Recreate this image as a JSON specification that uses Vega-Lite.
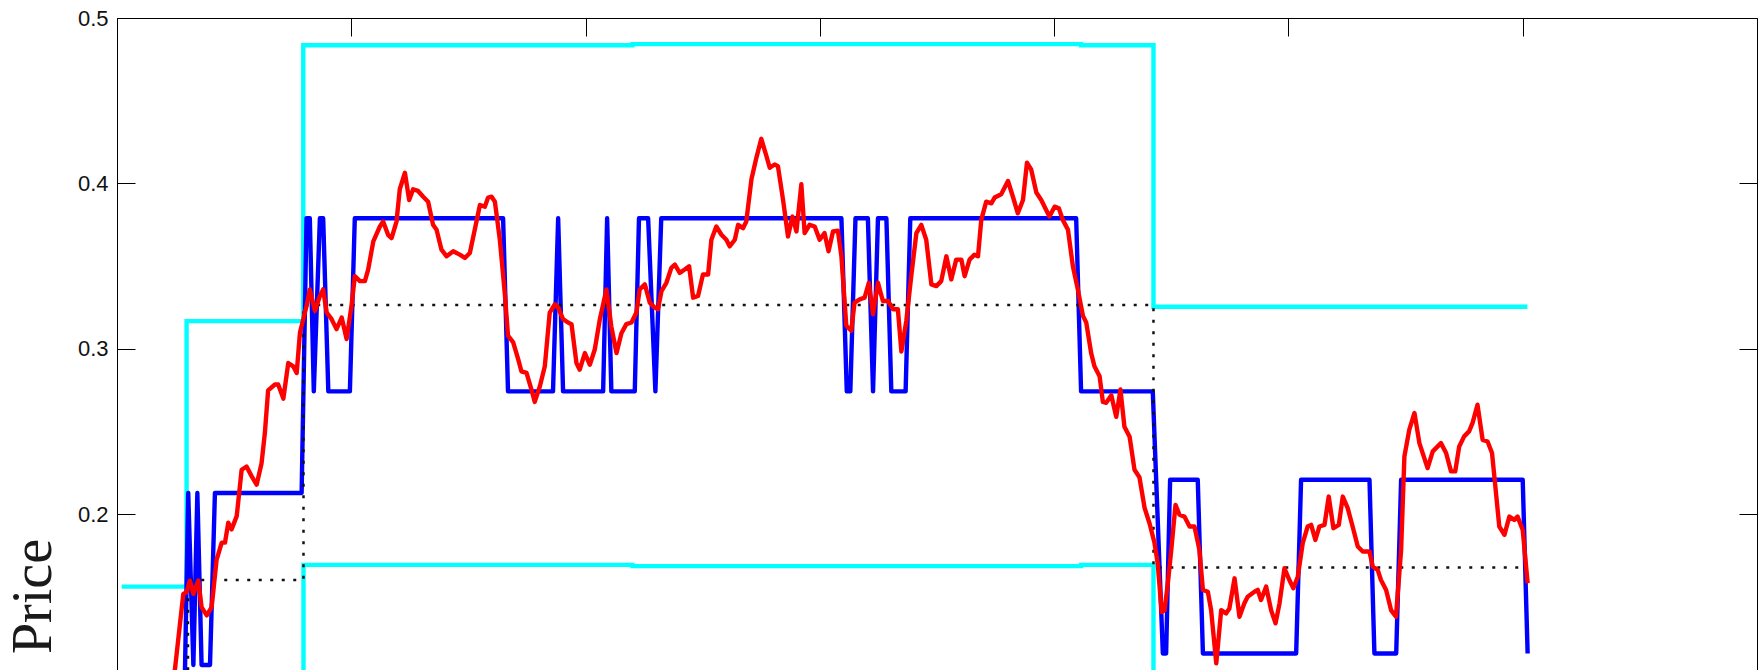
{
  "$schema": "https://vega.github.io/schema/vega-lite/v6.json",
  "width": 1640,
  "height": 652,
  "autosize": {"type": "none"},
  "padding": {"left": 117, "top": 18, "right": 3, "bottom": 0},
  "background": "white",
  "config": {"view": {"stroke": null}},
  "datasets": {
    "bands": [
      {"t": 2, "v": 0.1564, "band": "upper"},
      {"t": 29.7, "v": 0.3168, "band": "upper"},
      {"t": 79.5, "v": 0.4835, "band": "upper"},
      {"t": 220, "v": 0.4842, "band": "upper"},
      {"t": 411.5, "v": 0.4835, "band": "upper"},
      {"t": 442.4, "v": 0.3255, "band": "upper"},
      {"t": 602, "v": 0.3255, "band": "upper"},
      {"t": 2, "v": -0.15, "band": "lower"},
      {"t": 30, "v": 0.004, "band": "lower"},
      {"t": 79.6, "v": 0.1695, "band": "lower"},
      {"t": 220, "v": 0.1688, "band": "lower"},
      {"t": 411.5, "v": 0.1695, "band": "lower"},
      {"t": 442.4, "v": 0.0105, "band": "lower"},
      {"t": 602, "v": 0.0105, "band": "lower"}
    ],
    "mid": [
      {"t": 2, "v": 0.0},
      {"t": 30.3, "v": 0.1604},
      {"t": 79.6, "v": 0.3266},
      {"t": 442.4, "v": 0.168},
      {"t": 602, "v": 0.168}
    ],
    "state": [
      {"t": 2, "v": 0.05}, {"t": 28.3, "v": 0.05}, {"t": 30.4, "v": 0.213}, {"t": 32.6, "v": 0.109},
      {"t": 34.3, "v": 0.213}, {"t": 36.1, "v": 0.109}, {"t": 39.7, "v": 0.109}, {"t": 41.8, "v": 0.213},
      {"t": 78.8, "v": 0.213}, {"t": 80.9, "v": 0.379}, {"t": 82.3, "v": 0.379}, {"t": 84.0, "v": 0.2744},
      {"t": 86.6, "v": 0.379}, {"t": 88.0, "v": 0.379}, {"t": 90.2, "v": 0.2744}, {"t": 99.4, "v": 0.2744},
      {"t": 101.5, "v": 0.379}, {"t": 164.8, "v": 0.379}, {"t": 166.9, "v": 0.2744}, {"t": 186.1, "v": 0.2744},
      {"t": 188.3, "v": 0.379}, {"t": 190.4, "v": 0.2744}, {"t": 207.5, "v": 0.2744}, {"t": 209.2, "v": 0.379},
      {"t": 211.0, "v": 0.2744}, {"t": 221.0, "v": 0.2744}, {"t": 222.8, "v": 0.379}, {"t": 226.7, "v": 0.379},
      {"t": 229.8, "v": 0.2744}, {"t": 232.3, "v": 0.379}, {"t": 309.2, "v": 0.379}, {"t": 311.5, "v": 0.2744},
      {"t": 313.0, "v": 0.2744}, {"t": 315.2, "v": 0.379}, {"t": 320.5, "v": 0.379}, {"t": 322.7, "v": 0.2744},
      {"t": 324.8, "v": 0.379}, {"t": 328.4, "v": 0.379}, {"t": 330.5, "v": 0.2744}, {"t": 336.6, "v": 0.2744},
      {"t": 338.6, "v": 0.379}, {"t": 409.4, "v": 0.379}, {"t": 411.5, "v": 0.2744}, {"t": 442.1, "v": 0.2744},
      {"t": 446.4, "v": 0.116}, {"t": 447.8, "v": 0.116}, {"t": 449.5, "v": 0.221}, {"t": 461.3, "v": 0.221},
      {"t": 463.5, "v": 0.116}, {"t": 503.3, "v": 0.116}, {"t": 505.4, "v": 0.221}, {"t": 534.6, "v": 0.221},
      {"t": 536.7, "v": 0.116}, {"t": 546.0, "v": 0.116}, {"t": 548.1, "v": 0.221}, {"t": 600.0, "v": 0.221},
      {"t": 602.1, "v": 0.116}
    ],
    "price": [
      {"t": 20, "v": 0.07}, {"t": 24.7, "v": 0.106}, {"t": 28.3, "v": 0.152}, {"t": 29.7, "v": 0.153},
      {"t": 31.1, "v": 0.16}, {"t": 32.6, "v": 0.152}, {"t": 34.7, "v": 0.16}, {"t": 36.1, "v": 0.144},
      {"t": 38.3, "v": 0.139}, {"t": 40.4, "v": 0.144}, {"t": 42.5, "v": 0.1725}, {"t": 44.7, "v": 0.183},
      {"t": 46.1, "v": 0.183}, {"t": 47.5, "v": 0.195}, {"t": 48.9, "v": 0.191}, {"t": 51.1, "v": 0.199},
      {"t": 53.2, "v": 0.227}, {"t": 55.3, "v": 0.229}, {"t": 57.5, "v": 0.223}, {"t": 59.6, "v": 0.218},
      {"t": 61.7, "v": 0.231}, {"t": 63.1, "v": 0.249}, {"t": 64.5, "v": 0.275}, {"t": 67.4, "v": 0.2785},
      {"t": 68.8, "v": 0.2785}, {"t": 71.0, "v": 0.27}, {"t": 73.1, "v": 0.2915}, {"t": 75.2, "v": 0.2895},
      {"t": 76.7, "v": 0.2855}, {"t": 78.1, "v": 0.31}, {"t": 79.5, "v": 0.318}, {"t": 80.9, "v": 0.326},
      {"t": 82.3, "v": 0.336}, {"t": 84.5, "v": 0.323}, {"t": 86.6, "v": 0.332}, {"t": 88.0, "v": 0.336},
      {"t": 89.5, "v": 0.322}, {"t": 91.6, "v": 0.318}, {"t": 93.7, "v": 0.312}, {"t": 95.9, "v": 0.319},
      {"t": 98.0, "v": 0.306}, {"t": 100.1, "v": 0.326}, {"t": 101.5, "v": 0.344}, {"t": 103.7, "v": 0.341},
      {"t": 105.8, "v": 0.341}, {"t": 107.2, "v": 0.348}, {"t": 109.4, "v": 0.365}, {"t": 112.2, "v": 0.374},
      {"t": 113.6, "v": 0.377}, {"t": 115.7, "v": 0.369}, {"t": 117.2, "v": 0.367}, {"t": 119.3, "v": 0.377},
      {"t": 120.7, "v": 0.3965}, {"t": 122.9, "v": 0.4065}, {"t": 124.7, "v": 0.39}, {"t": 126.4, "v": 0.3965},
      {"t": 128.5, "v": 0.3955}, {"t": 130.7, "v": 0.392}, {"t": 132.8, "v": 0.389}, {"t": 134.9, "v": 0.375},
      {"t": 136.4, "v": 0.372}, {"t": 138.5, "v": 0.36}, {"t": 140.7, "v": 0.356}, {"t": 143.5, "v": 0.359},
      {"t": 146.3, "v": 0.357}, {"t": 148.5, "v": 0.355}, {"t": 150.6, "v": 0.358}, {"t": 152.7, "v": 0.372},
      {"t": 154.9, "v": 0.387}, {"t": 157.0, "v": 0.386}, {"t": 158.4, "v": 0.3915}, {"t": 159.9, "v": 0.392},
      {"t": 161.3, "v": 0.389}, {"t": 163.4, "v": 0.366}, {"t": 165.5, "v": 0.334}, {"t": 166.9, "v": 0.308},
      {"t": 169.1, "v": 0.304}, {"t": 171.2, "v": 0.294}, {"t": 172.6, "v": 0.2865}, {"t": 174.8, "v": 0.2855},
      {"t": 176.9, "v": 0.2755}, {"t": 178.3, "v": 0.268}, {"t": 180.5, "v": 0.2775}, {"t": 182.6, "v": 0.2895},
      {"t": 184.7, "v": 0.322}, {"t": 186.9, "v": 0.327}, {"t": 188.3, "v": 0.325}, {"t": 190.4, "v": 0.318},
      {"t": 192.5, "v": 0.316}, {"t": 194.0, "v": 0.315}, {"t": 196.1, "v": 0.2915}, {"t": 197.5, "v": 0.2875},
      {"t": 199.7, "v": 0.2975}, {"t": 201.8, "v": 0.2905}, {"t": 203.9, "v": 0.2995}, {"t": 206.1, "v": 0.318},
      {"t": 208.9, "v": 0.336}, {"t": 211.0, "v": 0.3135}, {"t": 213.2, "v": 0.2975}, {"t": 215.3, "v": 0.3095},
      {"t": 217.4, "v": 0.315}, {"t": 219.6, "v": 0.316}, {"t": 221.7, "v": 0.322}, {"t": 223.1, "v": 0.336},
      {"t": 225.3, "v": 0.339}, {"t": 227.4, "v": 0.328}, {"t": 229.5, "v": 0.325}, {"t": 230.9, "v": 0.324},
      {"t": 232.4, "v": 0.335}, {"t": 234.5, "v": 0.34}, {"t": 236.6, "v": 0.349}, {"t": 238.1, "v": 0.351},
      {"t": 240.2, "v": 0.346}, {"t": 242.3, "v": 0.348}, {"t": 244.2, "v": 0.35}, {"t": 245.9, "v": 0.331},
      {"t": 248.0, "v": 0.332}, {"t": 250.1, "v": 0.345}, {"t": 252.3, "v": 0.345}, {"t": 253.7, "v": 0.366},
      {"t": 255.8, "v": 0.374}, {"t": 258.0, "v": 0.369}, {"t": 260.1, "v": 0.366}, {"t": 261.5, "v": 0.362},
      {"t": 263.7, "v": 0.366}, {"t": 265.1, "v": 0.375}, {"t": 267.2, "v": 0.373}, {"t": 268.6, "v": 0.377},
      {"t": 270.8, "v": 0.4025}, {"t": 272.9, "v": 0.4155}, {"t": 275.0, "v": 0.427}, {"t": 277.2, "v": 0.4165},
      {"t": 278.6, "v": 0.4095}, {"t": 280.7, "v": 0.4115}, {"t": 282.1, "v": 0.4105}, {"t": 284.3, "v": 0.39},
      {"t": 286.4, "v": 0.368}, {"t": 288.3, "v": 0.38}, {"t": 290.0, "v": 0.371}, {"t": 292.1, "v": 0.3995},
      {"t": 293.5, "v": 0.37}, {"t": 295.6, "v": 0.375}, {"t": 297.8, "v": 0.374}, {"t": 299.9, "v": 0.366},
      {"t": 302.0, "v": 0.37}, {"t": 303.7, "v": 0.359}, {"t": 305.6, "v": 0.371}, {"t": 307.7, "v": 0.3715},
      {"t": 309.2, "v": 0.356}, {"t": 311.3, "v": 0.314}, {"t": 313.4, "v": 0.311}, {"t": 314.8, "v": 0.328},
      {"t": 317.0, "v": 0.33}, {"t": 319.1, "v": 0.331}, {"t": 320.9, "v": 0.34}, {"t": 322.7, "v": 0.321},
      {"t": 324.8, "v": 0.34}, {"t": 326.9, "v": 0.329}, {"t": 329.1, "v": 0.329}, {"t": 331.2, "v": 0.324},
      {"t": 333.3, "v": 0.324}, {"t": 334.8, "v": 0.2985}, {"t": 336.9, "v": 0.317}, {"t": 339.0, "v": 0.344},
      {"t": 341.2, "v": 0.37}, {"t": 343.3, "v": 0.375}, {"t": 345.4, "v": 0.366}, {"t": 347.6, "v": 0.339},
      {"t": 349.7, "v": 0.338}, {"t": 351.8, "v": 0.341}, {"t": 354.0, "v": 0.356}, {"t": 356.1, "v": 0.342},
      {"t": 358.2, "v": 0.354}, {"t": 360.4, "v": 0.354}, {"t": 361.8, "v": 0.344}, {"t": 363.9, "v": 0.354},
      {"t": 366.0, "v": 0.357}, {"t": 367.5, "v": 0.356}, {"t": 368.9, "v": 0.378}, {"t": 371.0, "v": 0.389},
      {"t": 373.2, "v": 0.388}, {"t": 374.6, "v": 0.3915}, {"t": 377.4, "v": 0.3935}, {"t": 380.3, "v": 0.4015},
      {"t": 382.4, "v": 0.392}, {"t": 384.5, "v": 0.382}, {"t": 386.7, "v": 0.39}, {"t": 388.4, "v": 0.4125},
      {"t": 390.2, "v": 0.4085}, {"t": 392.4, "v": 0.3945}, {"t": 394.5, "v": 0.39}, {"t": 396.6, "v": 0.384},
      {"t": 398.0, "v": 0.38}, {"t": 400.2, "v": 0.386}, {"t": 402.0, "v": 0.385}, {"t": 403.7, "v": 0.378},
      {"t": 405.9, "v": 0.372}, {"t": 408.0, "v": 0.35}, {"t": 410.1, "v": 0.336}, {"t": 412.3, "v": 0.32},
      {"t": 413.7, "v": 0.316}, {"t": 415.8, "v": 0.2975}, {"t": 417.2, "v": 0.2895}, {"t": 419.4, "v": 0.2835},
      {"t": 420.8, "v": 0.268}, {"t": 422.2, "v": 0.2675}, {"t": 424.4, "v": 0.272}, {"t": 426.5, "v": 0.259},
      {"t": 428.3, "v": 0.2755}, {"t": 430.0, "v": 0.253}, {"t": 432.2, "v": 0.247}, {"t": 434.3, "v": 0.227},
      {"t": 436.4, "v": 0.2225}, {"t": 438.6, "v": 0.204}, {"t": 440.7, "v": 0.1947}, {"t": 442.8, "v": 0.183},
      {"t": 444.2, "v": 0.1705}, {"t": 445.9, "v": 0.141}, {"t": 447.1, "v": 0.142}, {"t": 448.5, "v": 0.158},
      {"t": 450.0, "v": 0.1786}, {"t": 451.8, "v": 0.2058}, {"t": 453.5, "v": 0.1998}, {"t": 455.6, "v": 0.1987},
      {"t": 457.8, "v": 0.1927}, {"t": 459.9, "v": 0.1927}, {"t": 462.0, "v": 0.1786}, {"t": 463.5, "v": 0.1544},
      {"t": 465.6, "v": 0.1533}, {"t": 467.0, "v": 0.1422}, {"t": 469.2, "v": 0.11}, {"t": 471.3, "v": 0.1422},
      {"t": 473.4, "v": 0.1402}, {"t": 474.8, "v": 0.1432}, {"t": 477.0, "v": 0.1614}, {"t": 479.1, "v": 0.1382},
      {"t": 481.2, "v": 0.1463}, {"t": 482.6, "v": 0.1503}, {"t": 485.5, "v": 0.1533}, {"t": 486.9, "v": 0.1544},
      {"t": 488.3, "v": 0.1483}, {"t": 490.5, "v": 0.1564}, {"t": 492.6, "v": 0.1422}, {"t": 494.5, "v": 0.1342},
      {"t": 496.2, "v": 0.1463}, {"t": 498.3, "v": 0.1675}, {"t": 500.4, "v": 0.1604}, {"t": 502.1, "v": 0.1554},
      {"t": 504.0, "v": 0.1624}, {"t": 506.1, "v": 0.1826}, {"t": 508.2, "v": 0.1927}, {"t": 509.7, "v": 0.1937},
      {"t": 511.5, "v": 0.1846}, {"t": 513.2, "v": 0.1927}, {"t": 515.4, "v": 0.1937}, {"t": 517.2, "v": 0.2108},
      {"t": 519.2, "v": 0.1917}, {"t": 521.5, "v": 0.1937}, {"t": 523.2, "v": 0.2108}, {"t": 525.3, "v": 0.2038},
      {"t": 527.4, "v": 0.1927}, {"t": 529.6, "v": 0.1806}, {"t": 531.7, "v": 0.1776}, {"t": 534.6, "v": 0.1776},
      {"t": 536.0, "v": 0.1685}, {"t": 538.1, "v": 0.1665}, {"t": 539.5, "v": 0.1604}, {"t": 541.7, "v": 0.1544},
      {"t": 543.8, "v": 0.1422}, {"t": 545.9, "v": 0.1382}, {"t": 548.1, "v": 0.1786}, {"t": 549.5, "v": 0.2351},
      {"t": 551.6, "v": 0.2512}, {"t": 553.8, "v": 0.2613}, {"t": 555.9, "v": 0.2431}, {"t": 559.4, "v": 0.228},
      {"t": 561.6, "v": 0.2381}, {"t": 565.1, "v": 0.2431}, {"t": 567.3, "v": 0.2371}, {"t": 569.4, "v": 0.226},
      {"t": 571.2, "v": 0.226}, {"t": 572.9, "v": 0.2411}, {"t": 575.0, "v": 0.2472}, {"t": 577.1, "v": 0.2502},
      {"t": 578.6, "v": 0.2553}, {"t": 580.7, "v": 0.2663}, {"t": 582.9, "v": 0.2451}, {"t": 585.0, "v": 0.2441},
      {"t": 586.9, "v": 0.2371}, {"t": 588.6, "v": 0.2129}, {"t": 590.0, "v": 0.1927}, {"t": 592.2, "v": 0.1877},
      {"t": 594.3, "v": 0.1987}, {"t": 596.4, "v": 0.1967}, {"t": 597.8, "v": 0.1987}, {"t": 600.0, "v": 0.1907},
      {"t": 602.1, "v": 0.1584}
    ]
  },
  "layer": [
    {
      "data": {"name": "bands"},
      "mark": {"type": "line", "color": "#00ffff", "strokeWidth": 4.4, "interpolate": "step-after", "clip": true, "strokeJoin": "miter"},
      "encoding": {
        "x": {"field": "t", "type": "quantitative", "scale": {"domain": [0, 700], "nice": false, "zero": false},
          "axis": {"orient": "top", "values": [0, 100, 200, 300, 400, 500, 600, 700], "labels": false, "grid": false, "title": null,
            "domain": true, "domainColor": "#000000", "domainWidth": 1, "ticks": true, "tickSize": -18, "tickColor": "#000000", "tickWidth": 1}},
        "y": {"field": "v", "type": "quantitative", "scale": {"domain": [0.106, 0.5], "nice": false, "zero": false},
          "axis": {"orient": "left", "values": [0.2, 0.3, 0.4, 0.5], "format": ".1f", "grid": false,
            "domain": true, "domainColor": "#000000", "domainWidth": 1, "ticks": true, "tickSize": -18, "tickColor": "#000000", "tickWidth": 1,
            "labelFont": "Liberation Sans", "labelFontSize": 22, "labelColor": "#111111", "labelPadding": 27, "labelFlush": false, "labelOverlap": false,
            "title": "Price", "titleFont": "Liberation Serif", "titleFontSize": 56, "titleFontWeight": "normal", "titleColor": "#1a1a1a",
            "titleAngle": -90, "titleX": -67, "titleY": 578, "titleAlign": "center", "titleBaseline": "alphabetic"}},
        "detail": {"field": "band"}
      }
    },
    {
      "data": {"name": "state"},
      "mark": {"type": "line", "color": "#0000ff", "strokeWidth": 4.4, "clip": true, "strokeJoin": "round"},
      "encoding": {
        "x": {"field": "t", "type": "quantitative",
          "axis": {"orient": "top", "values": [0, 100, 200, 300, 400, 500, 600, 700], "labels": false, "grid": false, "title": null,
            "domain": true, "domainColor": "#000000", "domainWidth": 1, "ticks": true, "tickSize": -18, "tickColor": "#000000", "tickWidth": 1}},
        "y": {"field": "v", "type": "quantitative", "axis": null}
      }
    },
    {
      "data": {"name": "mid"},
      "mark": {"type": "line", "color": "#111111", "strokeWidth": 2.5, "strokeDash": [3, 8.5], "interpolate": "step-after", "clip": true},
      "encoding": {
        "x": {"field": "t", "type": "quantitative",
          "axis": {"orient": "top", "values": [0, 100, 200, 300, 400, 500, 600, 700], "labels": false, "grid": false, "title": null,
            "domain": true, "domainColor": "#000000", "domainWidth": 1, "ticks": true, "tickSize": -18, "tickColor": "#000000", "tickWidth": 1}},
        "y": {"field": "v", "type": "quantitative", "axis": null}
      }
    },
    {
      "data": {"name": "price"},
      "mark": {"type": "line", "color": "#ff0000", "strokeWidth": 4.4, "clip": true, "strokeJoin": "round"},
      "encoding": {
        "x": {"field": "t", "type": "quantitative",
          "axis": {"orient": "top", "values": [0, 100, 200, 300, 400, 500, 600, 700], "labels": false, "grid": false, "title": null,
            "domain": true, "domainColor": "#000000", "domainWidth": 1, "ticks": true, "tickSize": -18, "tickColor": "#000000", "tickWidth": 1}},
        "y": {"field": "v", "type": "quantitative",
          "axis": {"orient": "right", "values": [0.2, 0.3, 0.4, 0.5], "labels": false, "grid": false, "title": null,
            "domain": true, "domainColor": "#000000", "domainWidth": 1, "ticks": true, "tickSize": -18, "tickColor": "#000000", "tickWidth": 1}}
      }
    }
  ],
  "resolve": {"axis": {"y": "independent"}}
}
